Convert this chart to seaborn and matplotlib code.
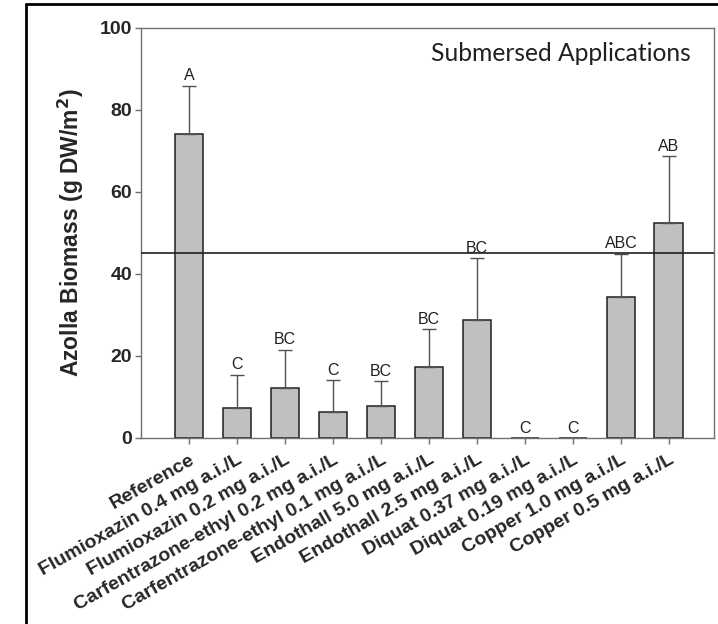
import numpy as np
import pandas as pd
import matplotlib
matplotlib.use("Agg")
import matplotlib.pyplot as plt
import seaborn as sns
from matplotlib.lines import Line2D

# values
treatments = ["Reference", "Flumioxazin 0.4 mg a.i./L", "Flumioxazin 0.2 mg a.i./L",
              "Carfentrazone-ethyl 0.2 mg a.i./L", "Carfentrazone-ethyl 0.1 mg a.i./L",
              "Endothall 5.0 mg a.i./L", "Endothall 2.5 mg a.i./L", "Diquat 0.37 mg a.i./L",
              "Diquat 0.19 mg a.i./L", "Copper 1.0 mg a.i./L", "Copper 0.5 mg a.i./L"]
biomass = [74.1, 7.2, 12.2, 6.4, 7.8, 17.3, 28.8, 0.0, 0.0, 34.5, 52.5]
error_up = [11.8, 8.2, 9.3, 7.7, 6.0, 9.2, 15.0, 0.0, 0.0, 10.4, 16.2]
letters = ["A", "C", "BC", "C", "BC", "BC", "BC", "C", "C", "ABC", "AB"]
ref_line = 45.2

df = pd.DataFrame({"treatment": treatments, "biomass": biomass, "err": error_up})

sns.set_style("white")
plt.rcParams['font.family'] = ['Liberation Sans', 'DejaVu Sans']

fig = plt.figure(figsize=(7.18, 6.24), dpi=100)
ax = fig.add_axes([141/718, 1 - 438/624, 573/718, 410/624])

sns.barplot(data=df, x="treatment", y="biomass", color="#c0c0c0", saturation=1,
            edgecolor="#202020", linewidth=1.1, width=0.6, errorbar=None, ax=ax)

# upper error bars only
x = np.arange(len(treatments))
has_err = df["err"].values > 0
ax.errorbar(x[has_err], df["biomass"].values[has_err],
            yerr=[np.zeros(has_err.sum()), df["err"].values[has_err]],
            fmt="none", ecolor="#505050", elinewidth=1.0, capsize=5, capthick=1.0, zorder=3)

# significance letters
for xi, (b, e, lab) in enumerate(zip(biomass, error_up, letters)):
    ax.text(xi, b + e + 0.6, lab, ha="center", va="bottom", fontsize=11.5, color="#202020")

ax.axhline(ref_line, color="#202020", lw=1.2, zorder=4)

ax.set_xlim(-1, 10.94)
ax.set_ylim(0, 100)
ax.set_yticks([0, 20, 40, 60, 80, 100])
ax.set_xlabel("")
ax.set_ylabel("Azolla Biomass (g DW/m$^\\mathbf{2}$)", fontsize=16.5, fontweight="bold", labelpad=10)

for s in ax.spines.values():
    s.set_color("#707070")
    s.set_linewidth(1.0)
ax.tick_params(axis="y", left=True, length=4.5, width=1, color="#707070", labelsize=14, pad=2)
ax.tick_params(axis="x", bottom=True, length=4.5, width=1, color="#707070", labelsize=14, pad=5)
for t in ax.get_yticklabels():
    t.set_fontweight("bold")
for t in ax.get_xticklabels():
    t.set_fontweight("bold")
    t.set_rotation(29.5)
    t.set_ha("right")
    t.set_rotation_mode("anchor")

ax.text(0.96, 0.965, "Submersed Applications", transform=ax.transAxes, ha="right", va="top",
        fontsize=17.7, family=["Lato", "DejaVu Sans"], color="#202020")

# outer frame around the figure
fig.add_artist(Line2D([26/718, 26/718], [0, 1 - 4/624], transform=fig.transFigure, color="black", lw=2))
fig.add_artist(Line2D([26/718, 1], [1 - 4/624, 1 - 4/624], transform=fig.transFigure, color="black", lw=2))

plt.savefig("out.png", dpi=100)
